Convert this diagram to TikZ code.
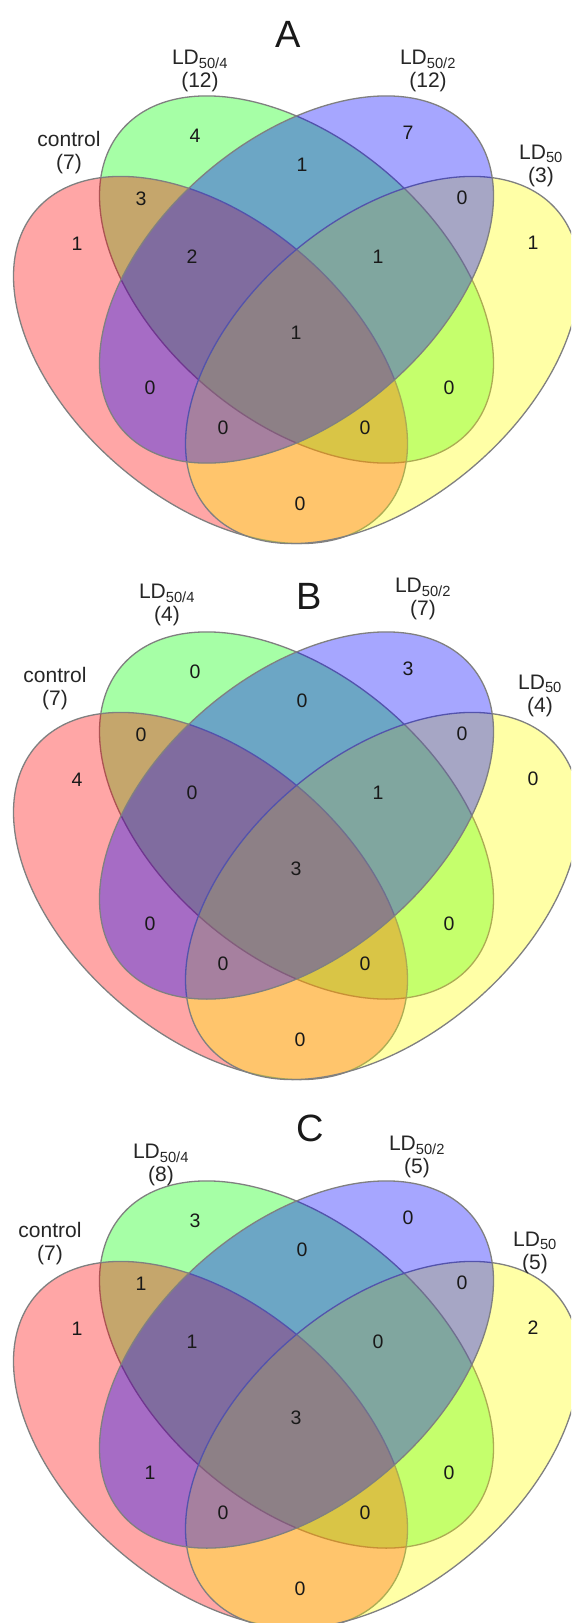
\documentclass[tikz,border=0pt]{standalone}
\usepackage{fontspec}
\setmainfont{Liberation Sans}
\usepackage{tikz}
\definecolor{vred}{RGB}{255,0,0}
\definecolor{vgreen}{RGB}{0,255,0}
\definecolor{vblue}{RGB}{0,0,255}
\definecolor{vyellow}{RGB}{255,255,0}
\tikzstyle{setline}  = [draw=black!50, line width=1.3pt, fill opacity=0.35]
\tikzstyle{regnum}   = [font=\fontsize{19.5}{23}\selectfont, text=black!90, inner sep=0pt]
\tikzstyle{setlabel} = [font=\fontsize{21}{23}\selectfont, align=center, text=black!85, inner sep=0pt]
\tikzstyle{panel}    = [font=\fontsize{38}{40}\selectfont, text=black!90, inner sep=0pt]

\begin{document}
\begin{tikzpicture}[x=1pt,y=-1pt]
		\useasboundingbox (0,0) rectangle (571,1623);
		\clip (0,0) rectangle (571,1623);
		\fill[white] (0,0) rectangle (571,1623);

		% A
		\begin{scope}
		\draw[setline, fill=vgreen, rotate around={-40.6:(296.5,279.5)}] (296.5,279.5) ellipse (230 and 140);
		\draw[setline, fill=vred, rotate around={-40.6:(210.5,360)}] (210.5,360) ellipse (230 and 140);
		\draw[setline, fill=vyellow, rotate around={40.6:(382.5,360)}] (382.5,360) ellipse (230 and 140);
		\draw[setline, fill=vblue, rotate around={40.6:(296.5,279.5)}] (296.5,279.5) ellipse (230 and 140);

		\node[panel] (A-title) at (288,34) {A};
		\node[setlabel] (A-ctrl) at (69,153) {control\\(7)};
		\node[setlabel] (A-ld4) at (200,71) {LD\textsubscript{50/4}\\(12)};
		\node[setlabel] (A-ld2) at (428,71) {LD\textsubscript{50/2}\\(12)};
		\node[setlabel] (A-ld50) at (541,166) {LD\textsubscript{50}\\(3)};

		\node[regnum] (A-g) at (195,136) {4};
		\node[regnum] (A-b) at (408,133) {7};
		\node[regnum] (A-gb) at (302,165) {1};
		\node[regnum] (A-rg) at (141,199) {3};
		\node[regnum] (A-by) at (462,198) {0};
		\node[regnum] (A-r) at (77,244) {1};
		\node[regnum] (A-y) at (533,243) {1};
		\node[regnum] (A-rgb) at (192,257) {2};
		\node[regnum] (A-gby) at (378,257) {1};
		\node[regnum] (A-all) at (296,333) {1};
		\node[regnum] (A-rb) at (150,388) {0};
		\node[regnum] (A-gy) at (449,388) {0};
		\node[regnum] (A-rby) at (223,428) {0};
		\node[regnum] (A-rgy) at (365,428) {0};
		\node[regnum] (A-ry) at (300,504) {0};
		\end{scope}

		% B
		\begin{scope}[shift={(0,536)}]
		\draw[setline, fill=vgreen, rotate around={-40.6:(296.5,279.5)}] (296.5,279.5) ellipse (230 and 140);
		\draw[setline, fill=vred, rotate around={-40.6:(210.5,360)}] (210.5,360) ellipse (230 and 140);
		\draw[setline, fill=vyellow, rotate around={40.6:(382.5,360)}] (382.5,360) ellipse (230 and 140);
		\draw[setline, fill=vblue, rotate around={40.6:(296.5,279.5)}] (296.5,279.5) ellipse (230 and 140);

		\node[panel] (B-title) at (309,60) {B};
		\node[setlabel] (B-ctrl) at (55,153) {control\\(7)};
		\node[setlabel] (B-ld4) at (167,69) {LD\textsubscript{50/4}\\(4)};
		\node[setlabel] (B-ld2) at (423,63) {LD\textsubscript{50/2}\\(7)};
		\node[setlabel] (B-ld50) at (540,160) {LD\textsubscript{50}\\(4)};

		\node[regnum] (B-g) at (195,136) {0};
		\node[regnum] (B-b) at (408,133) {3};
		\node[regnum] (B-gb) at (302,165) {0};
		\node[regnum] (B-rg) at (141,199) {0};
		\node[regnum] (B-by) at (462,198) {0};
		\node[regnum] (B-r) at (77,244) {4};
		\node[regnum] (B-y) at (533,243) {0};
		\node[regnum] (B-rgb) at (192,257) {0};
		\node[regnum] (B-gby) at (378,257) {1};
		\node[regnum] (B-all) at (296,333) {3};
		\node[regnum] (B-rb) at (150,388) {0};
		\node[regnum] (B-gy) at (449,388) {0};
		\node[regnum] (B-rby) at (223,428) {0};
		\node[regnum] (B-rgy) at (365,428) {0};
		\node[regnum] (B-ry) at (300,504) {0};
		\end{scope}

		% C
		\begin{scope}[shift={(0,1085)}]
		\draw[setline, fill=vgreen, rotate around={-40.6:(296.5,279.5)}] (296.5,279.5) ellipse (230 and 140);
		\draw[setline, fill=vred, rotate around={-40.6:(210.5,360)}] (210.5,360) ellipse (230 and 140);
		\draw[setline, fill=vyellow, rotate around={40.6:(382.5,360)}] (382.5,360) ellipse (230 and 140);
		\draw[setline, fill=vblue, rotate around={40.6:(296.5,279.5)}] (296.5,279.5) ellipse (230 and 140);

		\node[panel] (C-title) at (310,43) {C};
		\node[setlabel] (C-ctrl) at (50,159) {control\\(7)};
		\node[setlabel] (C-ld4) at (161,80) {LD\textsubscript{50/4}\\(8)};
		\node[setlabel] (C-ld2) at (417,72) {LD\textsubscript{50/2}\\(5)};
		\node[setlabel] (C-ld50) at (535,168) {LD\textsubscript{50}\\(5)};

		\node[regnum] (C-g) at (195,136) {3};
		\node[regnum] (C-b) at (408,133) {0};
		\node[regnum] (C-gb) at (302,165) {0};
		\node[regnum] (C-rg) at (141,199) {1};
		\node[regnum] (C-by) at (462,198) {0};
		\node[regnum] (C-r) at (77,244) {1};
		\node[regnum] (C-y) at (533,243) {2};
		\node[regnum] (C-rgb) at (192,257) {1};
		\node[regnum] (C-gby) at (378,257) {0};
		\node[regnum] (C-all) at (296,333) {3};
		\node[regnum] (C-rb) at (150,388) {1};
		\node[regnum] (C-gy) at (449,388) {0};
		\node[regnum] (C-rby) at (223,428) {0};
		\node[regnum] (C-rgy) at (365,428) {0};
		\node[regnum] (C-ry) at (300,504) {0};
		\end{scope}
	\end{tikzpicture}
\end{document}
